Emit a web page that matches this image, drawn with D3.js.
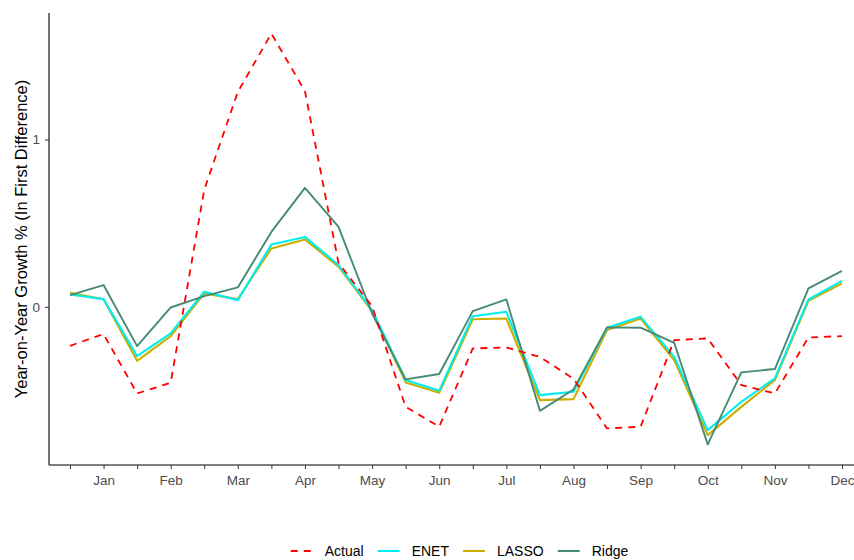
<!DOCTYPE html>
<html>
<head>
<meta charset="utf-8">
<script src="https://cdn.jsdelivr.net/npm/d3@7/dist/d3.min.js"></script>
<style>
  html, body { margin: 0; padding: 0; background: #fff; }
  svg { display: block; font-family: "Liberation Sans", Arial, sans-serif; }
</style>
</head>
<body>
<svg id="chart" width="854" height="560"></svg>
<script>
// Semi-monthly observations; every second tick carries a month label
const periods = d3.range(24);
const monthLabels = ["Jan", "Feb", "Mar", "Apr", "May", "Jun", "Jul", "Aug", "Sep", "Oct", "Nov", "Dec"];
const yTicks = [0, 1];

const actual = [-0.233, -0.163, -0.518, -0.454, 0.70, 1.285, 1.634, 1.29, 0.262, 0.004,
  -0.598, -0.717, -0.249, -0.243, -0.30, -0.43, -0.727, -0.717, -0.199, -0.189,
  -0.468, -0.518, -0.183, -0.175];
const enet = [0.074, 0.046, -0.295, -0.159, 0.09, 0.04, 0.373, 0.418, 0.25, -0.02,
  -0.438, -0.502, -0.056, -0.03, -0.528, -0.508, -0.125, -0.06, -0.299, -0.737,
  -0.568, -0.428, 0.044, 0.155];
const lasso = [0.084, 0.045, -0.323, -0.175, 0.08, 0.046, 0.349, 0.403, 0.24, -0.025,
  -0.452, -0.514, -0.074, -0.07, -0.558, -0.552, -0.139, -0.07, -0.319, -0.767,
  -0.598, -0.438, 0.036, 0.14];
const ridge = [0.07, 0.13, -0.235, -0.004, 0.064, 0.116, 0.448, 0.711, 0.478, -0.04,
  -0.434, -0.402, -0.026, 0.044, -0.622, -0.494, -0.123, -0.125, -0.215, -0.823,
  -0.392, -0.372, 0.11, 0.215];

const seriesNames = ["Actual", "ENET", "LASSO", "Ridge"];
const seriesColors = ["#FF0000", "#00EEEE", "#CDAD00", "#458B74"];

const series = [
  { name: "LASSO", values: lasso },
  { name: "ENET", values: enet },
  { name: "Ridge", values: ridge },
  { name: "Actual", values: actual }
];
const color = d3.scaleOrdinal().domain(seriesNames).range(seriesColors);

const svg = d3.select("#chart");
const panel = { left: 49, right: 863, top: 13, bottom: 465 };

// Data extent with 5% expansion on each side
const all = [].concat(actual, enet, lasso, ridge);
const [lo, hi] = d3.extent(all);
const pad = (hi - lo) * 0.05;

const x = d3.scaleLinear()
  .domain([-0.625, 23.625])
  .range([panel.left, panel.right]);
const y = d3.scaleLinear()
  .domain([lo - pad, hi + pad])
  .range([panel.bottom, panel.top]);

// Lines
const line = d3.line()
  .x((d, i) => x(periods[i]))
  .y(d => y(d));

const lines = svg.append("g");
series.forEach(s => {
  lines.append("path")
    .datum(s.values)
    .attr("fill", "none")
    .attr("stroke", color(s.name))
    .attr("stroke-width", s.name === "Actual" ? 1.8 : (s.name === "Ridge" ? 1.9 : 2.1))
    .attr("stroke-linejoin", "round")
    .attr("stroke-dasharray", s.name === "Actual" ? "7,6" : null)
    .attr("d", line);
});

// Axes
const xAxis = d3.axisBottom(x)
  .tickValues(periods)
  .tickSize(4)
  .tickPadding(6)
  .tickFormat(i => (i % 2 === 1 ? monthLabels[(i - 1) / 2] : ""));
const gx = svg.append("g")
  .attr("transform", `translate(0,${panel.bottom})`)
  .call(xAxis);
gx.select(".domain").attr("d", `M${panel.left},0H${panel.right}`).attr("stroke", "#000").attr("stroke-width", 1.1);
gx.selectAll(".tick line").attr("stroke", "#333").attr("stroke-width", 1);
gx.selectAll(".tick text").attr("fill", "#4D4D4D").attr("font-size", 13.5)
  .attr("font-family", "Liberation Sans, Arial, sans-serif");

const yAxis = d3.axisLeft(y)
  .tickValues(yTicks)
  .tickSize(4)
  .tickPadding(5)
  .tickFormat(d3.format("d"));
const gy = svg.append("g")
  .attr("transform", `translate(${panel.left},0)`)
  .call(yAxis);
gy.select(".domain").attr("d", `M0,${panel.top}V${panel.bottom}`).attr("stroke", "#000").attr("stroke-width", 1.1);
gy.selectAll(".tick line").attr("stroke", "#333").attr("stroke-width", 1);
gy.selectAll(".tick text").attr("fill", "#4D4D4D").attr("font-size", 13.5)
  .attr("font-family", "Liberation Sans, Arial, sans-serif");

// Y axis title
svg.append("text")
  .attr("transform", `translate(21,${(panel.top + panel.bottom) / 2}) rotate(-90)`)
  .attr("text-anchor", "middle")
  .attr("dominant-baseline", "central")
  .attr("font-size", 16.5)
  .attr("fill", "#000")
  .text("Year-on-Year Growth % (In First Difference)");

// Legend at the bottom, centred
const legend = svg.append("g").attr("transform", "translate(0,551)");
let cursor = 0;
const items = [];
seriesNames.forEach(name => {
  const g = legend.append("g");
  g.append("line")
    .attr("x1", 0).attr("x2", 22).attr("y1", 0).attr("y2", 0)
    .attr("stroke", color(name))
    .attr("stroke-width", name === "Actual" ? 1.8 : 2.1)
    .attr("stroke-dasharray", name === "Actual" ? "7,6" : null);
  const t = g.append("text")
    .attr("x", 34).attr("y", 0)
    .attr("dominant-baseline", "central")
    .attr("font-size", 14)
    .attr("fill", "#000")
    .text(name);
  const w = 34 + t.node().getComputedTextLength();
  items.push({ g, w });
});
const gap = 14;
const total = d3.sum(items, d => d.w) + gap * (items.length - 1);
cursor = 459.5 - total / 2;
items.forEach(it => {
  it.g.attr("transform", `translate(${cursor},0)`);
  cursor += it.w + gap;
});
</script>
</body>
</html>
